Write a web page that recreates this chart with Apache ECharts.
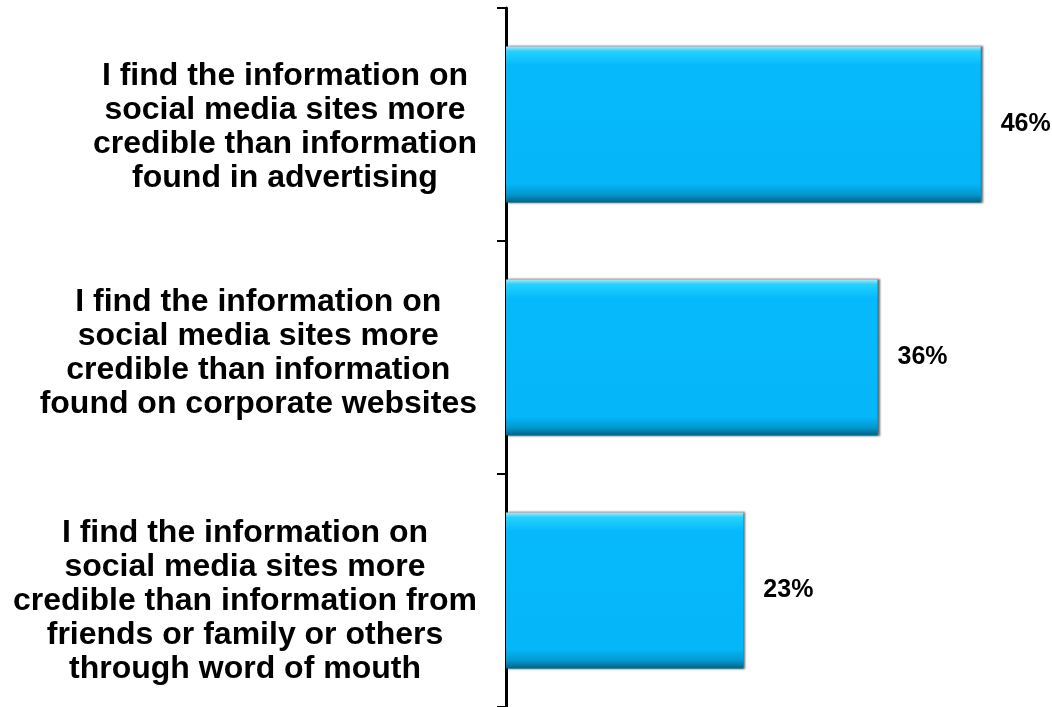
<!DOCTYPE html>
<html>
<head>
<meta charset="utf-8">
<script src="https://cdn.jsdelivr.net/npm/echarts@6/dist/echarts.min.js"></script>
<style>
  html, body { margin: 0; padding: 0; background: #fff; }
  #chart { width: 1052px; height: 707px; }
</style>
</head>
<body>
<div id="chart"></div>
<script>
// chart data
var categories = [
  'I find the information on\nsocial media sites more\ncredible than information\nfound in advertising',
  'I find the information on\nsocial media sites more\ncredible than information\nfound on corporate websites',
  'I find the information on\nsocial media sites more\ncredible than information from\nfriends or family or others\nthrough word of mouth'
]
var values = [46, 36, 23]

var myChart = echarts.init(document.getElementById('chart'))
var font = "'Liberation Sans', Arial, sans-serif"

// small vertical nudges so the label blocks sit like the original slide
var labelPads = [[6, 0, 0, 0], [0, 0, 8, 0], [22, 0, 0, 0]]
var yData = categories.map(function (c, i) {
  return { value: c, textStyle: { padding: labelPads[i] } }
})

myChart.setOption({
  animation: false,
  grid: {
    left: 506,
    right: 30,
    top: 8,
    bottom: -5,
    containLabel: false
  },
  xAxis: {
    type: 'value',
    min: 0,
    max: 50,
    show: false
  },
  yAxis: {
    type: 'category',
    inverse: true,
    data: yData,
    axisLine: { show: true, lineStyle: { color: '#000', width: 3 } },
    axisTick: { show: true, length: 9, lineStyle: { color: '#000', width: 2 } },
    axisLabel: {
      margin: 29,
      interval: 0,
      formatter: function (val) {
        // center each line inside the block
        return val.split('\n').map(function (s) { return '{c|' + s + '}' }).join('\n')
      },
      rich: {
        c: {
          align: 'center',
          fontFamily: font,
          fontSize: 32,
          lineHeight: 34,
          fontWeight: 'bold',
          color: '#000'
        }
      }
    }
  },
  series: [
    {
      type: 'bar',
      data: values,
      barWidth: '67%',
      itemStyle: {
        color: new echarts.graphic.LinearGradient(0, 0, 0, 1, [
          { offset: 0, color: '#9beeff' },
          { offset: 0.03, color: '#25d2ff' },
          { offset: 0.12, color: '#05bafc' },
          { offset: 0.88, color: '#05b6f8' },
          { offset: 0.95, color: '#0497cd' },
          { offset: 1, color: '#04607f' }
        ]),
        shadowColor: 'rgba(0,0,0,0.6)',
        shadowOffsetX: 2,
        shadowBlur: 2
      },
      label: {
        show: true,
        position: 'right',
        distance: 20,
        formatter: '{c}%',
        fontFamily: font,
        fontSize: 25,
        fontWeight: 'bold',
        color: '#000'
      }
    }
  ]
})
</script>
</body>
</html>
